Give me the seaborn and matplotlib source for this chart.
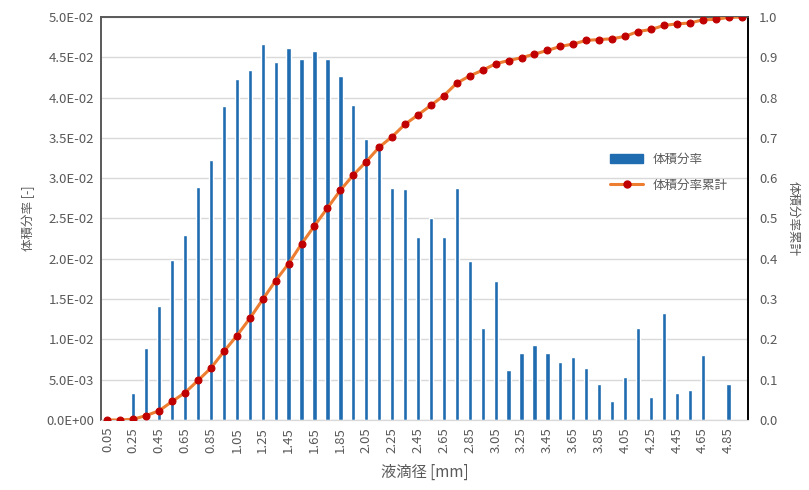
import numpy as np
import pandas as pd
import seaborn as sns
import matplotlib.pyplot as plt
from matplotlib.lines import Line2D
from matplotlib.patches import Patch
from matplotlib.ticker import FuncFormatter, MultipleLocator

# droplet diameter classes [mm]
diameters = ['0.05', '0.15', '0.25', '0.35', '0.45', '0.55', '0.65', '0.75', '0.85', '0.95',
             '1.05', '1.15', '1.25', '1.35', '1.45', '1.55', '1.65', '1.75', '1.85', '1.95',
             '2.05', '2.15', '2.25', '2.35', '2.45', '2.55', '2.65', '2.75', '2.85', '2.95',
             '3.05', '3.15', '3.25', '3.35', '3.45', '3.55', '3.65', '3.75', '3.85', '3.95',
             '4.05', '4.15', '4.25', '4.35', '4.45', '4.55', '4.65', '4.75', '4.85', '4.95']

# volume fraction per class
vol_frac = [0.0, 0.0, 0.0034, 0.0089, 0.0141, 0.0199, 0.0229, 0.0289, 0.0322, 0.0389,
            0.0423, 0.0434, 0.0466, 0.0444, 0.0461, 0.0448, 0.0458, 0.0448, 0.0427, 0.0391,
            0.0349, 0.0336, 0.0288, 0.0287, 0.0227, 0.0251, 0.0227, 0.0288, 0.0197, 0.0114,
            0.0172, 0.0062, 0.0083, 0.0093, 0.0083, 0.0072, 0.0078, 0.0064, 0.0045, 0.0023,
            0.0053, 0.0114, 0.0029, 0.0133, 0.0034, 0.0037, 0.0081, 0.0, 0.0045, 0.0]

# cumulative volume fraction
vol_cum = [0.0, 0.0, 0.002, 0.011, 0.023, 0.046, 0.068, 0.098, 0.129, 0.170,
           0.209, 0.252, 0.299, 0.346, 0.388, 0.437, 0.482, 0.526, 0.570, 0.608,
           0.641, 0.677, 0.703, 0.734, 0.757, 0.781, 0.805, 0.836, 0.854, 0.868,
           0.884, 0.892, 0.899, 0.908, 0.917, 0.927, 0.933, 0.942, 0.944, 0.946,
           0.952, 0.964, 0.969, 0.979, 0.983, 0.985, 0.993, 0.994, 0.999, 1.0]

df = pd.DataFrame({'diameter': diameters, 'frac': vol_frac, 'cum': vol_cum})

sns.set_style('white')
plt.rcParams['font.family'] = ['Noto Sans CJK JP', 'DejaVu Sans']

bar_color = '#1f6cb0'
line_color = '#ed7d31'
marker_color = '#c00000'
text_color = '#595959'

fig = plt.figure(figsize=(8.09, 4.90), dpi=100)
ax = fig.add_axes([0.1248, 0.1429, 0.7998, 0.8224])

sns.barplot(data=df, x='diameter', y='frac', color=bar_color, width=0.33,
            saturation=1, ax=ax, zorder=2)
ax.set_ylim(0, 0.05)
ax.set_xlim(-0.5, len(diameters) - 0.5)
ax.yaxis.set_major_locator(MultipleLocator(0.005))
ax.yaxis.set_major_formatter(FuncFormatter(lambda v, p: f'{v:.1E}'))
ax.grid(axis='y', color='#d9d9d9', linewidth=1, zorder=0)
ax.set_axisbelow(True)

tick_pos = list(range(0, len(diameters), 2))
ax.set_xticks(tick_pos)
ax.set_xticklabels([diameters[i] for i in tick_pos], rotation=90)
ax.tick_params(axis='both', colors=text_color, labelsize=9.5, length=0, pad=5)
ax.set_xlabel('液滴径 [mm]', fontsize=11, color=text_color, labelpad=8)
ax.set_ylabel('体積分率 [-]', fontsize=9, color=text_color, labelpad=8)

ax2 = ax.twinx()
sns.lineplot(x=np.arange(len(diameters)), y=df['cum'], ax=ax2, color=line_color,
             linewidth=2.2, marker='o', markersize=5, markerfacecolor=marker_color,
             markeredgecolor=marker_color, zorder=3)
ax2.set_ylim(0, 1.0)
ax2.yaxis.set_major_locator(MultipleLocator(0.1))
ax2.yaxis.set_major_formatter(FuncFormatter(lambda v, p: f'{v:.1f}'))
ax2.tick_params(axis='y', colors=text_color, labelsize=9.5, length=0, pad=8)
ax2.set_ylabel('体積分率累計', fontsize=9, color=text_color, rotation=270, labelpad=16)
ax2.grid(False)

for a in (ax, ax2):
    for side in ('left', 'top'):
        a.spines[side].set_color('#595959')
        a.spines[side].set_linewidth(1.2)
    a.spines['right'].set_color('#000000')
    a.spines['right'].set_linewidth(1.2)
    a.spines['bottom'].set_color('#d9d9d9')

handles = [Patch(facecolor=bar_color, edgecolor=bar_color),
           Line2D([0], [0], color=line_color, linewidth=2.2, marker='o', markersize=5,
                  markerfacecolor=marker_color, markeredgecolor=marker_color)]
leg = ax2.legend(handles, ['体積分率', '体積分率累計'], loc='upper left',
                 bbox_to_anchor=(0.77, 0.69), frameon=False, fontsize=9,
                 handlelength=2.6, labelspacing=1.0)
for t in leg.get_texts():
    t.set_color(text_color)

fig.savefig('out.png', dpi=100)
